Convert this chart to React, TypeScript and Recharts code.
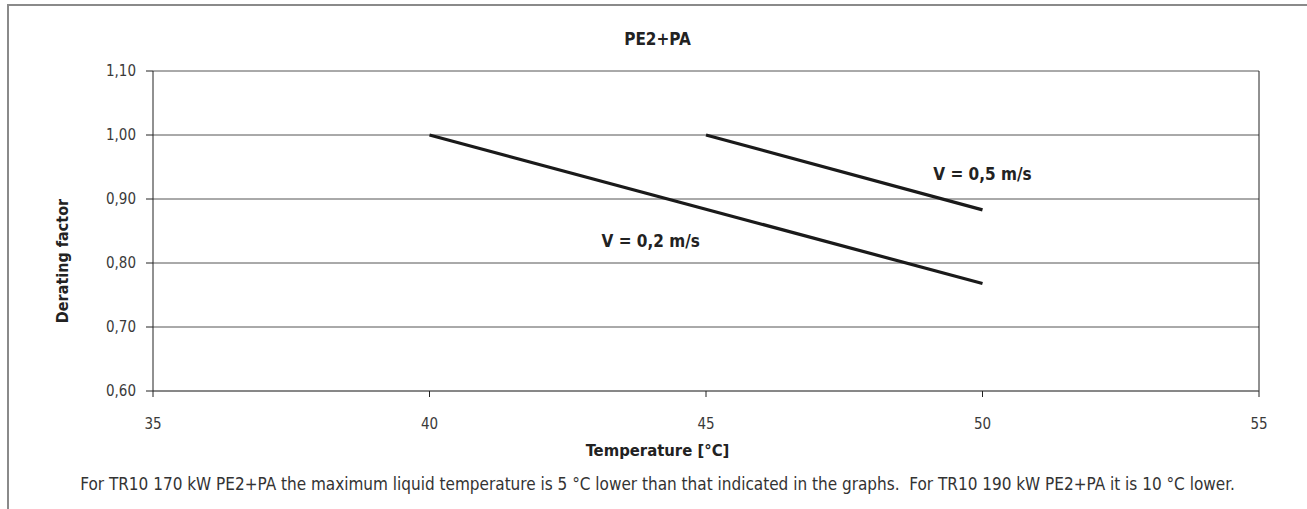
import * as React from 'react';
import { LineChart, Line, XAxis, YAxis, CartesianGrid, ReferenceLine, ReferenceDot } from 'recharts';

const xTicks = [35, 40, 45, 50, 55];
const yTicks = [0.6, 0.7, 0.8, 0.9, 1.0, 1.1];

const temp02 = [40, 50];
const factor02 = [1.0, 0.768];
const temp05 = [45, 50];
const factor05 = [1.0, 0.883];

const series02 = temp02.map((t, i) => ({ t, f: factor02[i] }));
const series05 = temp05.map((t, i) => ({ t, f: factor05[i] }));

const FONT = '"Liberation Sans Narrow", "DejaVu Sans Condensed", Arial, sans-serif';
const fmt = (v: number) => v.toFixed(2).replace('.', ',');

export default function App() {
  const tickStyle = { fill: '#3a3a3a', fontSize: 15, fontFamily: FONT };
  return (
    <div style={{ position: 'absolute', left: 0, top: 0, width: 1307, height: 509, background: '#fff', fontFamily: FONT, overflow: 'hidden' }}>
      <div style={{ position: 'absolute', left: 7, top: 4, width: 1310, height: 520, borderTop: '2px solid #8a8a8a', borderLeft: '2px solid #8a8a8a' }} />
      <LineChart width={1307} height={509} margin={{ top: 71, right: 48, bottom: 88, left: 0 }}>
        <CartesianGrid vertical={false} stroke="#555" horizontalValues={yTicks} />
        <XAxis
          type="number"
          dataKey="t"
          domain={[35, 55]}
          ticks={xTicks}
          height={30}
          tick={tickStyle}
          tickSize={6}
          tickMargin={21}
          axisLine={{ stroke: '#666' }}
          tickLine={{ stroke: '#222' }}
          allowDuplicatedCategory={false}
        />
        <YAxis
          type="number"
          domain={[0.6, 1.1]}
          ticks={yTicks}
          width={153}
          tick={tickStyle}
          tickFormatter={fmt}
          tickSize={7}
          tickMargin={10}
          axisLine={{ stroke: '#222' }}
          tickLine={{ stroke: '#222' }}
        />
        <ReferenceLine x={55} stroke="#222" />
        <Line data={series02} dataKey="f" stroke="#1a1a1a" strokeWidth={3.2} dot={false} isAnimationActive={false} />
        <Line data={series05} dataKey="f" stroke="#1a1a1a" strokeWidth={3.2} dot={false} isAnimationActive={false} />
        <ReferenceDot x={50} y={0.939} r={0} stroke="none" fill="none"
          label={{ value: 'V = 0,5 m/s', position: 'center', fill: '#222', fontSize: 17, fontWeight: 700, fontFamily: FONT }} />
        <ReferenceDot x={44} y={0.834} r={0} stroke="none" fill="none"
          label={{ value: 'V = 0,2 m/s', position: 'center', fill: '#222', fontSize: 17, fontWeight: 700, fontFamily: FONT }} />
      </LineChart>
      <div style={{ position: 'absolute', left: 0, width: 1315, top: 29, textAlign: 'center', fontWeight: 700, fontSize: 17, color: '#222' }}>PE2+PA</div>
      <div style={{ position: 'absolute', left: 0, width: 1315, top: 441, textAlign: 'center', fontWeight: 700, fontSize: 16.5, color: '#222' }}>Temperature [°C]</div>
      <div style={{ position: 'absolute', left: 0, width: 1315, top: 474, textAlign: 'center', fontSize: 17, color: '#333' }}>
        For TR10 170 kW PE2+PA the maximum liquid temperature is 5 °C lower than that indicated in the graphs.&nbsp; For TR10 190 kW PE2+PA it is 10 °C lower.
      </div>
      <div style={{ position: 'absolute', left: 62, top: 261, transform: 'translate(-50%, -50%) rotate(-90deg)', whiteSpace: 'nowrap', fontWeight: 700, fontSize: 16, color: '#222' }}>Derating factor</div>
    </div>
  );
}
